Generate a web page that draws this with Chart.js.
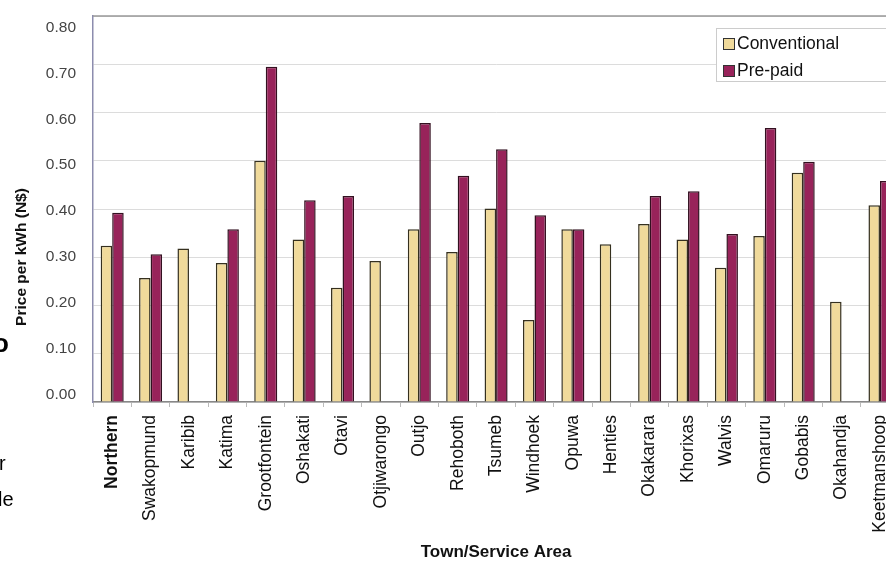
<!DOCTYPE html>
<html>
<head>
<meta charset="utf-8">
<script src="https://cdn.jsdelivr.net/npm/chart.js@4.4.0/dist/chart.umd.min.js"></script>
<style>
  html, body { margin: 0; padding: 0; background: #fff; overflow: hidden; }
  #wrap { position: relative; width: 886px; height: 565px; overflow: hidden; }
  #box { position: absolute; left: 0; top: 0; width: 909px; height: 565px; }
  .frag { position: absolute; font-family: "Liberation Sans", Arial, sans-serif; font-weight: bold; color: #000; }
</style>
</head>
<body>
<div id="wrap">
  <div id="box"><canvas id="chart"></canvas></div>
  <div class="frag" style="left:-7px; top:328px; font-size:26px;">o</div>
  <div class="frag" style="left:-1px; top:452px; font-size:20px; font-weight:normal;">r</div>
  <div class="frag" style="left:-2px; top:488px; font-size:20px; font-weight:normal;">le</div>
</div>
<script>
// datos
var towns = ['Northern', 'Swakopmund', 'Karibib', 'Katima', 'Grootfontein', 'Oshakati', 'Otavi',
  'Otjiwarongo', 'Outjo', 'Rehoboth', 'Tsumeb', 'Windhoek', 'Opuwa', 'Henties', 'Okakarara',
  'Khorixas', 'Walvis', 'Omaruru', 'Gobabis', 'Okahandja', 'Keetmanshoop'];
var conventional = [0.324, 0.257, 0.318, 0.288, 0.500, 0.337, 0.237, 0.292, 0.358, 0.311, 0.401,
  0.170, 0.358, 0.327, 0.369, 0.337, 0.278, 0.344, 0.475, 0.208, 0.408];
var prepaid = [0.392, 0.306, null, 0.358, 0.695, 0.418, 0.427, null, 0.578, 0.469, 0.524,
  0.387, 0.358, null, 0.427, 0.437, 0.348, 0.568, 0.498, null, 0.458];
var yTicks = [0, 0.1, 0.2, 0.3, 0.4, 0.5, 0.6, 0.7, 0.8];

var FONT = '"Liberation Sans", Arial, sans-serif';

// leyenda, borde superior y titulo del eje y
var extras = {
  id: 'extras',
  afterDraw: function (chart) {
    var ctx = chart.ctx;
    var area = chart.chartArea;
    ctx.save();
    // borde superior
    ctx.strokeStyle = '#999';
    ctx.lineWidth = 1.5;
    ctx.beginPath();
    ctx.moveTo(area.left, area.top);
    ctx.lineTo(area.right, area.top);
    ctx.stroke();

    // titulo del eje y
    ctx.translate(22, 257);
    ctx.rotate(-Math.PI / 2);
    ctx.fillStyle = '#111';
    ctx.font = 'bold 15.5px ' + FONT;
    ctx.textAlign = 'center';
    ctx.textBaseline = 'middle';
    ctx.fillText('Price per kWh (N$)', 0, 0);
    ctx.restore();

    // leyenda
    ctx.save();
    ctx.fillStyle = '#fff';
    ctx.fillRect(716, 28, 190, 53);
    ctx.strokeStyle = '#ccc';
    ctx.lineWidth = 1;
    ctx.strokeRect(716.5, 28.5, 190, 53);
    var ds = chart.data.datasets;
    var ys = [43, 70];
    ctx.font = '17.5px ' + FONT;
    ctx.textBaseline = 'middle';
    for (var i = 0; i < ds.length; i++) {
      ctx.fillStyle = ds[i].backgroundColor;
      ctx.fillRect(723, ys[i] - 5, 11, 11);
      ctx.strokeStyle = '#333';
      ctx.strokeRect(723.5, ys[i] - 4.5, 11, 11);
      ctx.fillStyle = '#111';
      ctx.fillText(ds[i].label, 737, ys[i] + 1);
    }
    ctx.restore();
  }
};

var chart = new Chart(document.getElementById('chart'), {
  type: 'bar',
  data: {
    labels: towns,
    datasets: [
      {
        label: 'Conventional',
        data: conventional,
        backgroundColor: '#F0DA9B',
        borderColor: '#35301f',
        borderWidth: 1.5,
        categoryPercentage: 0.6,
        barPercentage: 1
      },
      {
        label: 'Pre-paid',
        data: prepaid,
        backgroundColor: '#98235A',
        borderColor: '#331020',
        borderWidth: 1.5,
        categoryPercentage: 0.6,
        barPercentage: 1
      }
    ]
  },
  options: {
    responsive: true,
    maintainAspectRatio: false,
    animation: false,
    layout: { padding: { top: 16, right: 1, bottom: 2, left: 0 } },
    plugins: {
      legend: { display: false },
      tooltip: { enabled: false }
    },
    scales: {
      x: {
        offset: true,
        grid: { drawOnChartArea: false, tickLength: 5, color: '#bbb' },
        border: { color: '#888', width: 1.5 },
        ticks: {
          autoSkip: false,
          maxRotation: 90,
          minRotation: 90,
          padding: 8,
          color: '#111',
          font: function (c) {
            return { family: FONT, size: 17.5, weight: c.index === 0 ? 'bold' : 'normal' };
          }
        },
        title: {
          display: true,
          text: 'Town/Service Area',
          color: '#111',
          font: { family: FONT, size: 17, weight: 'bold' },
          padding: { top: 0, bottom: 0 }
        },
        afterFit: function (scale) { scale.height = 565 - 402 - 2; }
      },
      // eje de los datos: lineas de la cuadricula, sin etiquetas
      y: {
        position: 'left',
        weight: 0,
        min: 0,
        max: 0.8,
        afterBuildTicks: function (scale) {
          scale.ticks = yTicks.map(function (v) { return { value: v }; });
        },
        grid: { color: '#dcdcdc', drawTicks: false },
        border: { color: '#8c8cae', width: 1.5 },
        ticks: { display: false },
        afterFit: function (scale) { scale.width = 0; }
      },
      // eje solo de etiquetas, algo mas apretado como en el original
      yl: {
        position: 'left',
        weight: 1,
        min: -0.0164,
        max: 0.825,
        afterBuildTicks: function (scale) {
          scale.ticks = yTicks.map(function (v) { return { value: v }; });
        },
        grid: { drawOnChartArea: false, drawTicks: true, tickLength: 17, color: 'rgba(0,0,0,0)', tickColor: 'rgba(0,0,0,0)' },
        border: { display: false },
        ticks: {
          padding: 0,
          color: '#444',
          font: { family: FONT, size: 15.5 },
          callback: function (v) { return Number(v).toFixed(2); }
        },
        afterFit: function (scale) { scale.width = 93; }
      }
    }
  },
  plugins: [extras]
});
</script>
</body>
</html>
